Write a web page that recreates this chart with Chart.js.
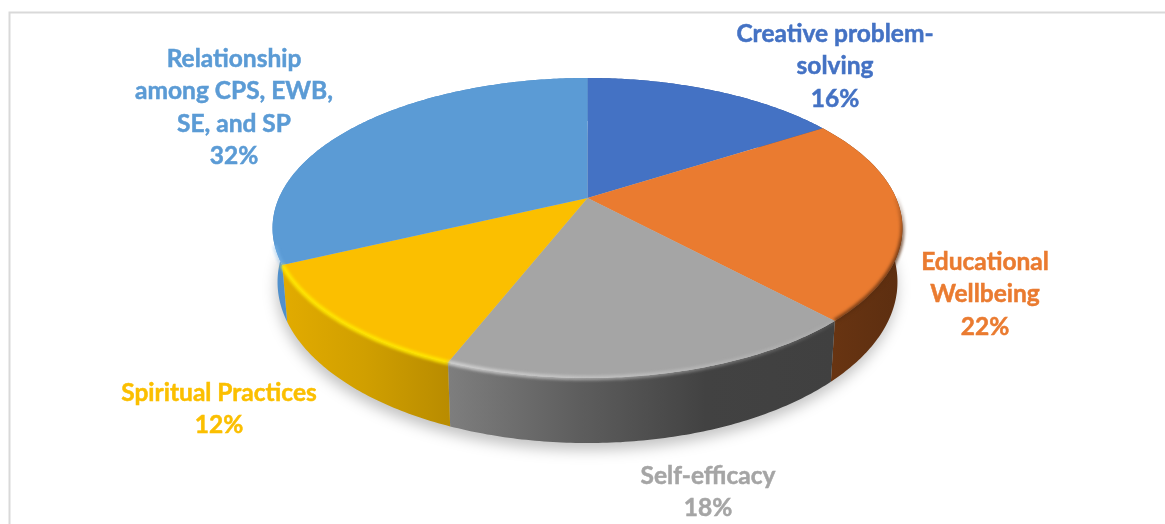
<!DOCTYPE html>
<html>
<head>
<meta charset="utf-8">
<title>Pie</title>
<script src="https://cdn.jsdelivr.net/npm/chart.js@4"></script>
<style>
    html, body { margin: 0; padding: 0; background: #fff; overflow: hidden; }
    #wrap { width: 1165px; height: 524px; }
</style>
</head>
<body>
<div id="wrap"><canvas id="pie"></canvas></div>
<script>
const categories = [
    ['Creative problem-', 'solving'],
    ['Educational', 'Wellbeing'],
    ['Self-efficacy'],
    ['Spiritual Practices'],
    ['Relationship', 'among CPS, EWB,', 'SE, and SP']
];
const shares = [16, 22, 18, 12, 32];
const faceColors = ['#4472C4', '#EA7B30', '#A5A5A5', '#FBBF00', '#5B9BD5'];

// side wall gradient, left to right
const wallColors = [
    ['#2f5597', '#2f5597'],
    ['#6a3512', '#5c2e10'],
    ['#7e7e7e', '#5e5e5e', '#424242', '#404040'],
    ['#e2ab00', '#d09f00', '#b98c00'],
    ['#5090cc', '#4a88c2']
];
// bevel along the outer edge of each slice: r, g, b, alpha, fade direction
const rimStyles = [
    null,
    [90, 45, 15, 0.75, 'y'],
    [215, 215, 215, 0.85, 'x'],
    [255, 232, 0, 0.95, ''],
    [130, 190, 240, 0.4, '']
];

// label centres, first line baseline middle
const labelSpots = [[835, 34], [985, 262], [708, 476], [219, 393], [234, 59]];
const labelLeading = 32.3;

// top and bottom disc of the pie, in canvas pixels
const tilt = 0.2;
const topDisc = { cx: 587.5, y0: 198, rx: 308.6, a: 144 };
const bottomDisc = { cx: 587.5, y0: 249.8, rx: 303.7, a: 154.6 };

function project(disc, theta) {
    const w = 1 + tilt * Math.cos(theta);
    return [disc.cx + disc.rx * Math.sin(theta) / w, disc.y0 - disc.a * Math.cos(theta) / w];
}

function traceRim(ctx, disc, from, to, first) {
    const steps = Math.max(2, Math.ceil(Math.abs(to - from) / 0.012));
    for (let i = 0; i <= steps; i++) {
        const p = project(disc, from + (to - from) * i / steps);
        if (i === 0 && first) ctx.moveTo(p[0], p[1]);
        else ctx.lineTo(p[0], p[1]);
    }
}

function rimPaint(ctx, style, from, to) {
    const [r, g, b, alpha, fade] = style;
    const solid = `rgba(${r},${g},${b},${alpha})`;
    if (!fade) return solid;
    const grad = fade === 'y'
        ? ctx.createLinearGradient(0, 190, 0, 245)
        : ctx.createLinearGradient(project(topDisc, to)[0], 0, project(topDisc, from)[0], 0);
    grad.addColorStop(0, fade === 'y' ? `rgba(${r},${g},${b},0)` : solid);
    grad.addColorStop(1, fade === 'y' ? solid : `rgba(${r},${g},${b},0.1)`);
    return grad;
}

const solidPie = {
    id: 'solidPie',
    beforeDraw(chart) {
        // chart frame, runs off the right and bottom
        const ctx = chart.ctx;
        ctx.save();
        ctx.strokeStyle = '#d9d9d9';
        ctx.lineWidth = 2;
        ctx.beginPath();
        ctx.moveTo(9.5, 530);
        ctx.lineTo(9.5, 12.5);
        ctx.lineTo(1170, 12.5);
        ctx.stroke();
        ctx.restore();
    },
    beforeDatasetsDraw(chart) {
        const ctx = chart.ctx;
        const arcs = chart.getDatasetMeta(0).data;
        const angles = arcs.map(a => [a.startAngle + Math.PI / 2, a.endAngle + Math.PI / 2]);

        // soft shadow on the page
        ctx.save();
        ctx.filter = 'blur(7px)';
        ctx.fillStyle = 'rgba(0,0,0,0.24)';
        ctx.translate(-1, 7);
        ctx.beginPath();
        traceRim(ctx, bottomDisc, 0, Math.PI * 2, true);
        ctx.closePath();
        ctx.fill();
        ctx.restore();

        // walls
        angles.forEach((ang, i) => {
            const xs = [];
            for (let t = ang[0]; t <= ang[1]; t += 0.02) xs.push(project(topDisc, t)[0]);
            xs.push(project(topDisc, ang[1])[0]);
            const g = ctx.createLinearGradient(Math.min(...xs), 0, Math.max(...xs), 0);
            wallColors[i].forEach((c, n) => g.addColorStop(n / (wallColors[i].length - 1), c));
            ctx.fillStyle = g;
            ctx.beginPath();
            traceRim(ctx, topDisc, ang[0], ang[1], true);
            traceRim(ctx, bottomDisc, ang[1], ang[0], false);
            ctx.closePath();
            ctx.fill();
        });

        // top faces
        arcs.forEach((arc, i) => {
            ctx.fillStyle = arc.options.backgroundColor;
            ctx.beginPath();
            ctx.moveTo(topDisc.cx, topDisc.y0);
            traceRim(ctx, topDisc, angles[i][0], angles[i][1], false);
            ctx.closePath();
            ctx.fill();
        });

        // bevel, only where the rim faces the viewer
        ctx.save();
        ctx.lineWidth = 4.5;
        ctx.filter = 'blur(1.5px)';
        angles.forEach((ang, i) => {
            if (!rimStyles[i]) return;
            const from = Math.max(ang[0], Math.PI * 0.5);
            const to = Math.min(ang[1], Math.PI * 1.4);
            if (to <= from) return;
            ctx.strokeStyle = rimPaint(ctx, rimStyles[i], from, to);
            ctx.beginPath();
            traceRim(ctx, topDisc, from, to, true);
            ctx.stroke();
        });
        ctx.restore();
        return false;
    },
    afterDraw(chart) {
        const ctx = chart.ctx;
        ctx.save();
        ctx.font = 'bold 24.5px Lato';
        ctx.textAlign = 'center';
        ctx.textBaseline = 'middle';
        ctx.lineWidth = 0.5;
        categories.forEach((lines, i) => {
            ctx.fillStyle = faceColors[i];
            ctx.strokeStyle = faceColors[i];
            const rows = lines.concat(shares[i] + '%');
            rows.forEach((row, n) => {
                const y = labelSpots[i][1] + n * labelLeading;
                ctx.fillText(row, labelSpots[i][0], y);
                ctx.strokeText(row, labelSpots[i][0], y);
            });
        });
        ctx.restore();
    }
};

new Chart(document.getElementById('pie'), {
    type: 'pie',
    data: {
        labels: categories.map(c => c.join(' ')),
        datasets: [{ data: shares, backgroundColor: faceColors, borderWidth: 0 }]
    },
    options: {
        responsive: true,
        maintainAspectRatio: false,
        animation: false,
        plugins: { legend: { display: false }, tooltip: { enabled: false } }
    },
    plugins: [solidPie]
});
</script>
</body>
</html>
